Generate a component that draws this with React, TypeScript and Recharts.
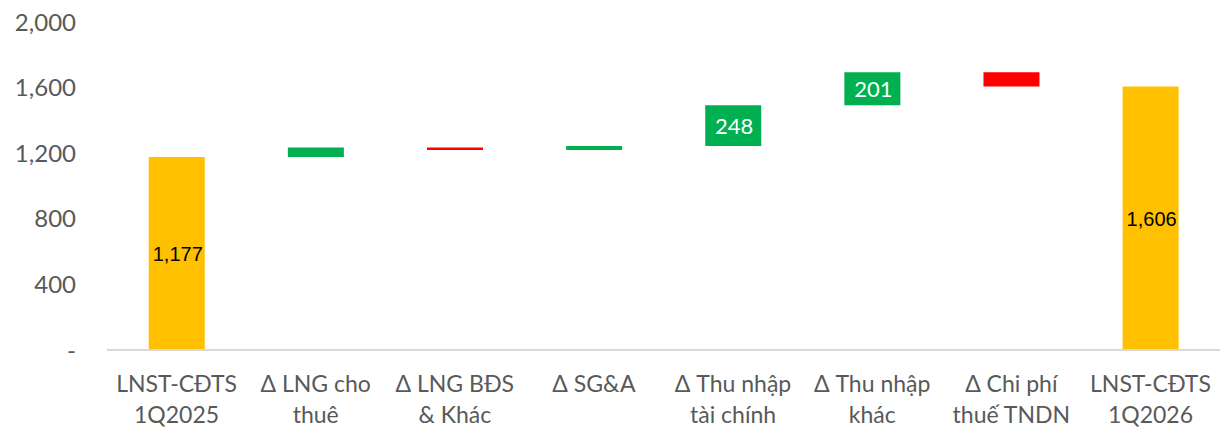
import { BarChart, Bar, XAxis, YAxis, LabelList, Cell } from "recharts";

const categories = [
    "LNST-CĐTS\n1Q2025",
    "Δ LNG cho\nthuê",
    "Δ LNG BĐS\n& Khác",
    "Δ SG&A",
    "Δ Thu nhập\ntài chính",
    "Δ Thu nhập\nkhác",
    "Δ Chi phí\nthuế TNDN",
    "LNST-CĐTS\n1Q2026",
];
// totals are absolute, the rest are changes
const values = [1177, 58, -15, 24, 248, 201, -87, 1606];
const isTotal = [true, false, false, false, false, false, false, true];
const shownLabels = [true, false, false, false, true, true, false, true];
const yTicks = [0, 400, 800, 1200, 1600, 2000];

const GOLD = "#FFC000";
const GREEN = "#00B050";
const RED = "#FF0000";

let running = 0;
const data = categories.map((name, i) => {
    const v = values[i];
    let base = 0;
    let size = v;
    if (isTotal[i]) {
        running = v;
    } else if (v >= 0) {
        base = running;
        running += v;
    } else {
        running += v;
        base = running;
        size = -v;
    }
    return { name, base, size, value: v, idx: i };
});

const colorFor = (i: number) =>
    isTotal[i] ? GOLD : values[i] >= 0 ? GREEN : RED;

const fmt = (v: number) => (v === 0 ? "-" : v.toLocaleString("en-US"));

function CategoryTick(props: any) {
    const { x, y, payload } = props;
    const lines = String(payload.value).split("\n");
    return (
        <text
            x={x}
            y={y}
            textAnchor="middle"
            fill="#595959"
            fontSize={23}
            fontFamily="Lato, 'Open Sans', sans-serif"
        >
            {lines.map((l, k) => (
                <tspan key={k} x={x} dy={k === 0 ? 34 : 31}>
                    {l}
                </tspan>
            ))}
        </text>
    );
}

function ValueLabel(props: any) {
    const { x, y, width, height, index } = props;
    if (!shownLabels[index]) return null;
    const total = isTotal[index];
    return (
        <text
            x={x + width / 2 + 1}
            y={y + height / 2}
            dy="0.36em"
            textAnchor="middle"
            fill={total ? "#000000" : "#FFFFFF"}
            fontSize={total ? 20 : 22}
            fontFamily={
                total
                    ? "'Liberation Sans', Arial, sans-serif"
                    : "Lato, 'Open Sans', sans-serif"
            }
        >
            {fmt(Math.abs(values[index]))}
        </text>
    );
}

export default function App() {
    return (
        <div style={{ position: "absolute", left: 0, top: 0 }}>
            <BarChart
                width={1221}
                height={429}
                data={data}
                margin={{ top: 22, right: 1, left: 0, bottom: 0 }}
                barCategoryGap="30%"
            >
                <XAxis
                    dataKey="name"
                    interval={0}
                    tick={<CategoryTick />}
                    tickLine={false}
                    axisLine={{ stroke: "#D9D9D9", strokeWidth: 2 }}
                    height={79}
                />
                <YAxis
                    domain={[0, 2000]}
                    ticks={yTicks}
                    tickFormatter={fmt}
                    axisLine={false}
                    tickLine={false}
                    tickSize={0}
                    tickMargin={31}
                    width={107}
                    tick={{
                        fill: "#595959",
                        fontSize: 24,
                        fontFamily: "Lato, 'Open Sans', sans-serif",
                    }}
                />
                <Bar
                    dataKey="base"
                    stackId="w"
                    fill="transparent"
                    isAnimationActive={false}
                />
                <Bar dataKey="size" stackId="w" isAnimationActive={false}>
                    {data.map((d) => (
                        <Cell key={d.idx} fill={colorFor(d.idx)} />
                    ))}
                    <LabelList dataKey="size" content={<ValueLabel />} />
                </Bar>
            </BarChart>
        </div>
    );
}
